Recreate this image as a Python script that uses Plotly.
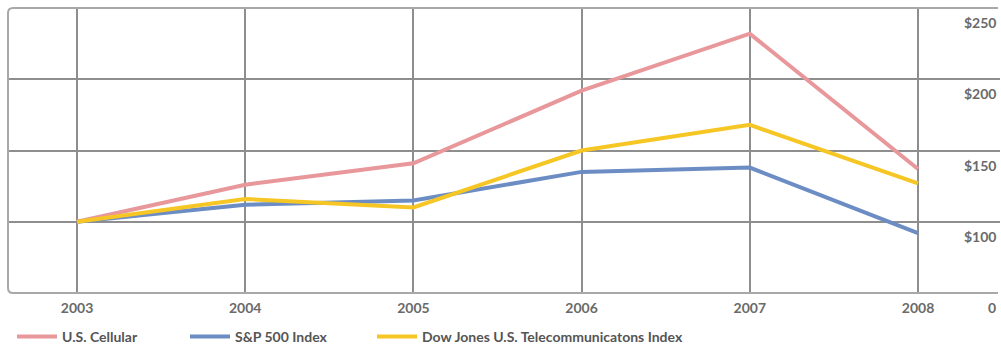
import plotly.graph_objects as go

years = [2003, 2004, 2005, 2006, 2007, 2008]
us_cellular = [100, 126, 141, 192, 232, 137]
sp500 = [100, 112, 115, 135, 138, 92]
dj_telecom = [100, 116, 110, 150, 168, 127]

series_names = ["U.S. Cellular", "S&P 500 Index", "Dow Jones U.S. Telecommunicatons Index"]
series_colors = ["#E8979B", "#6C8DC4", "#F6C624"]

y_tickvals = [50, 100, 150, 200, 250]
y_ticktext = ["0", "$100", "$150", "$200", "$250"]

W, H = 1001, 346
L, R, T, B = 8, 1, 8, 53
pw, ph = W - L - R, H - T - B

legend_ids = ["legend", "legend2", "legend3"]
legend_x_px = [12, 185, 372]

fig = go.Figure()
for name, vals, col, lid in zip(series_names, [us_cellular, sp500, dj_telecom], series_colors, legend_ids):
    fig.add_trace(go.Scatter(x=years, y=vals, mode="lines", name=name, legend=lid,
                             line=dict(color=col, width=4)))

px_per_year = 168.2
x0 = 2003 - (77 - L) / px_per_year
x1 = x0 + pw / px_per_year

def px(x):
    return (x - L) / pw

def py(y):
    return (H - B - y) / ph

r = 5
path = (f"M {px(998)},{py(T)} L {px(L + r)},{py(T)} Q {px(L)},{py(T)} {px(L)},{py(T + r)} "
        f"L {px(L)},{py(H - B - r)} Q {px(L)},{py(H - B)} {px(L + r)},{py(H - B)} L {px(998)},{py(H - B)}")
fig.add_shape(type="path", path=path, xref="paper", yref="paper",
              line=dict(color="#A8A8A8", width=2), layer="above")

font_family = "Lato"
label_font = dict(family=font_family, size=14, color="#6A6A6A", weight="bold")

# y-axis labels: right-aligned, hanging just below each gridline
for v, t in zip(y_tickvals, y_ticktext):
    fig.add_annotation(x=px(998), xref="paper", xanchor="right", y=v, yref="y", yanchor="top",
                       yshift=-4, text=t, showarrow=False, font=label_font)

legend_style = dict(orientation="h", xanchor="left", xref="container",
                    y=(H - 337) / H, yanchor="middle", yref="container",
                    font=dict(size=14, color="#555555", family=font_family, weight="bold"),
                    itemwidth=40, bgcolor="rgba(0,0,0,0)")

layout_legends = {}
for lid, lx in zip(legend_ids, legend_x_px):
    layout_legends[lid] = dict(legend_style, x=lx / W)

fig.update_layout(
    width=W, height=H,
    margin=dict(l=L, r=R, t=T, b=B, autoexpand=False),
    paper_bgcolor="white", plot_bgcolor="white",
    font=dict(family=font_family, color="#6A6A6A", size=14),
    showlegend=True,
    xaxis=dict(range=[x0, x1], tickvals=years, showgrid=True, gridcolor="#8E8E8E", gridwidth=1.5,
               zeroline=False, showline=False, ticks="outside", ticklen=2,
               tickcolor="rgba(0,0,0,0)", tickfont=label_font),
    yaxis=dict(range=[50, 250], tickvals=y_tickvals, showticklabels=False,
               showgrid=True, gridcolor="#8E8E8E", gridwidth=1.5,
               zeroline=False, showline=False),
    **layout_legends,
)

fig.write_html("out.html")
